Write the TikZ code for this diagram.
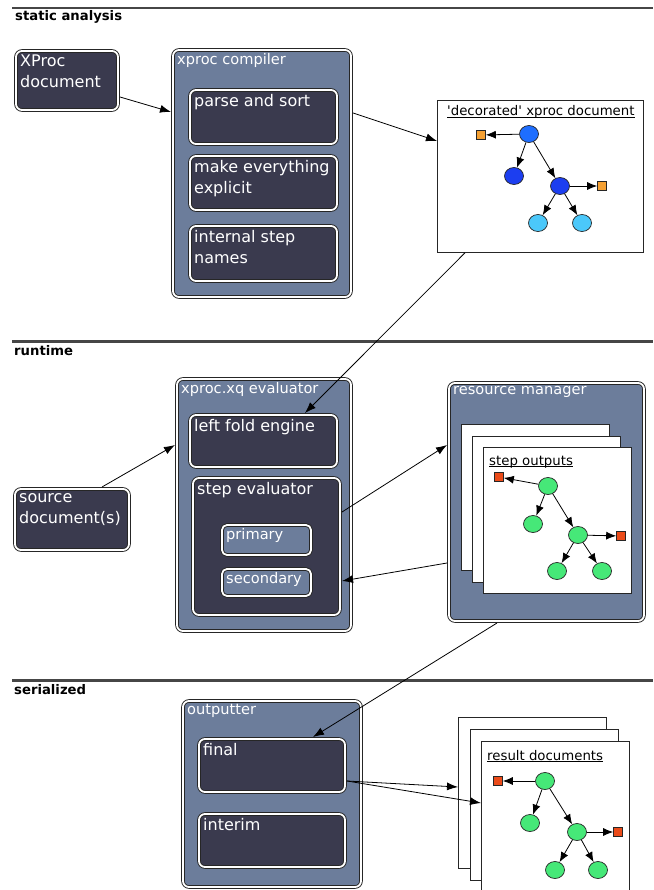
\documentclass[tikz,border=0pt]{standalone}
\usepackage{fontspec}
\setmainfont{DejaVu Sans}
\usetikzlibrary{arrows.meta, positioning, shapes.geometric, calc}

\definecolor{slate}{RGB}{108,125,155}
\definecolor{ink}{RGB}{58,58,78}
\definecolor{sectgray}{RGB}{70,70,70}
\definecolor{rootblue}{RGB}{30,110,255}
\definecolor{midblue}{RGB}{28,62,240}
\definecolor{leafblue}{RGB}{75,200,250}
\definecolor{attrorange}{RGB}{245,160,50}
\definecolor{stepgreen}{RGB}{70,232,120}
\definecolor{attrred}{RGB}{235,75,25}

\begin{document}
\begin{tikzpicture}[
    x=1pt, y=-1pt,
    %% box styles
    group/.style={
        draw=black!85, line width=0.9pt, double=white, double distance=1.8pt,
        rounded corners=6pt, fill=slate,
        inner sep=0pt, outer sep=2pt, anchor=north west
    },
    stage/.style={group, fill=ink},
    page/.style={
        draw=black!85, line width=0.8pt, fill=white,
        inner sep=0pt, anchor=north west,
        minimum width=148, minimum height=146
    },
    %% text styles
    grouptxt/.style={anchor=north west, text=white, inner xsep=6pt, inner ysep=5pt,
        font=\fontsize{14.6}{19}\selectfont},
    stagetxt/.style={anchor=north west, text=white, align=left, inner xsep=6pt, inner ysep=6pt,
        font=\fontsize{16}{21}\selectfont},
    sectiontxt/.style={anchor=base west, inner sep=0pt, font=\fontsize{13.2}{16}\selectfont\bfseries},
    pagetxt/.style={anchor=base west, inner sep=0pt, font=\fontsize{13.3}{16}\selectfont},
    underline/.style={line width=0.8pt},
    %% tree styles
    docnode/.style={ellipse, draw=black!85, line width=0.7pt,
        minimum width=19pt, minimum height=17pt, inner sep=0pt},
    attr/.style={draw=black!85, line width=0.6pt, minimum size=9pt, inner sep=0pt},
    %% arrow styles
    flow/.style={-{Latex[length=11pt, width=8pt]}, line width=0.8pt},
    edge/.style={-{Latex[length=10pt, width=8pt]}, line width=0.8pt},
    sectline/.style={line width=2.5pt, draw=sectgray}
]

    \useasboundingbox (0,0) rectangle (653,890);
    \fill[white] (0,0) rectangle (653,890);

    %% --- static analysis --------------------------------------
    \draw[sectline] (12,8) -- (653,8);
    \node[sectiontxt] (statlbl) at (15,20.7) {static analysis};

    \node[stage, minimum width=102, minimum height=59,
          label={[stagetxt]north west:{XProc\\document}}] (xproc) at (14,49) {};

    \node[group, minimum width=178, minimum height=247,
          label={[grouptxt]north west:xproc compiler}] (compiler) at (171,48) {};
    \node[stage, minimum width=147, minimum height=54,
          label={[stagetxt]north west:parse and sort}] (parse) at (188,88) {};
    \node[stage, minimum width=147, minimum height=54, below=8pt of parse,
          label={[stagetxt]north west:{make everything\\explicit}}] (explicit) {};
    \node[stage, minimum width=147, minimum height=55, below=12pt of explicit,
          label={[stagetxt]north west:{internal step\\names}}] (names) {};

    \node[page, minimum width=206, minimum height=152] (decorated) at (437,100) {};
    \node[pagetxt] (dectitle) at ($(decorated.north west)+(10,16)$)
        {\textquotesingle decorated\textquotesingle\ xproc document};
    \draw[underline] ($(dectitle.base west)+(0,1.8)$) -- ($(dectitle.base east)+(0,1.8)$);

    \begin{scope}[shift={(529,134)}]
        \node[docnode, fill=rootblue] (droot) at (0,0) {};
        \node[attr, fill=attrorange] (dattr1) at (-48,1) {};
        \node[docnode, fill=midblue] (dleft) at (-15,42) {};
        \node[docnode, fill=midblue] (dright) at (31,52) {};
        \node[attr, fill=attrorange] (dattr2) at (73,52) {};
        \node[docnode, fill=leafblue] (dleaf1) at (9,89) {};
        \node[docnode, fill=leafblue] (dleaf2) at (53,89) {};
        \draw[edge] (droot) -- (dattr1);
        \draw[edge] (droot) -- (dleft);
        \draw[edge] (droot) -- (dright);
        \draw[edge] (dright) -- (dattr2);
        \draw[edge] (dright) -- (dleaf1);
        \draw[edge] (dright) -- (dleaf2);
    \end{scope}

    %% --- runtime ----------------------------------------------
    \draw[sectline] (12,341.5) -- (653,341.5);
    \node[sectiontxt] (runlbl) at (14,355) {runtime};

    \node[stage, minimum width=114, minimum height=61,
          label={[stagetxt]north west:{source\\document(s)}}] (source) at (13,487) {};

    \node[group, minimum width=174, minimum height=252,
          label={[grouptxt]north west:xproc.xq evaluator}] (evaluator) at (175,377) {};
    \node[stage, minimum width=147, minimum height=52,
          label={[stagetxt]north west:left fold engine}] (leftfold) at (188,413) {};
    \node[stage, minimum width=147, minimum height=137,
          label={[stagetxt]north west:step evaluator}] (stepeval) at (191,476) {};
    \node[group, rounded corners=5pt, minimum width=89, minimum height=30,
          label={[grouptxt]north west:primary}] (primary) at (220,523) {};
    \node[group, rounded corners=5pt, minimum width=89, minimum height=27, below=10pt of primary,
          label={[grouptxt]north west:secondary}] (secondary) {};

    \node[group, minimum width=195, minimum height=238,
          label={[grouptxt]north west:resource manager}] (resmgr) at (447,381) {};
    \node[page] (store1) at (461,424) {};
    \node[page] (store2) at (472,436) {};
    \node[page] (store3) at (483,447) {};
    \node[pagetxt] (storetitle) at ($(store3.north west)+(6,18)$) {step outputs};
    \draw[underline] ($(storetitle.base west)+(0,1.8)$) -- ($(storetitle.base east)+(0,1.8)$);

    \begin{scope}[shift={(548,486)}]
        \node[docnode, fill=stepgreen] (sroot) at (0,0) {};
        \node[attr, fill=attrred] (sattr1) at (-49,-9) {};
        \node[docnode, fill=stepgreen] (sleft) at (-15,38) {};
        \node[docnode, fill=stepgreen] (sright) at (30,49) {};
        \node[attr, fill=attrred] (sattr2) at (73,50) {};
        \node[docnode, fill=stepgreen] (sleaf1) at (9,85) {};
        \node[docnode, fill=stepgreen] (sleaf2) at (54,85) {};
        \draw[edge] (sroot) -- (sattr1);
        \draw[edge] (sroot) -- (sleft);
        \draw[edge] (sroot) -- (sright);
        \draw[edge] (sright) -- (sattr2);
        \draw[edge] (sright) -- (sleaf1);
        \draw[edge] (sright) -- (sleaf2);
    \end{scope}

    %% --- serialized -------------------------------------------
    \draw[sectline] (12,680.5) -- (653,680.5);
    \node[sectiontxt] (serlbl) at (14,694) {serialized};

    \node[group, minimum width=178, minimum height=186,
          label={[grouptxt]north west:outputter}] (outputter) at (181,699) {};
    \node[stage, minimum width=146, minimum height=53,
          label={[stagetxt]north west:final}] (final) at (197,737) {};
    \node[stage, minimum width=146, minimum height=53, below=18pt of final,
          label={[stagetxt]north west:interim}] (interim) {};

    \node[page, minimum height=151] (result1) at (458,717) {};
    \node[page, minimum height=151] (result2) at (470,729) {};
    \node[page, minimum height=151] (result3) at (481,741) {};
    \node[pagetxt] (resulttitle) at ($(result3.north west)+(6,19)$) {result documents};
    \draw[underline] ($(resulttitle.base west)+(0,1.8)$) -- ($(resulttitle.base east)+(0,1.8)$);

    \begin{scope}[shift={(545,781)}]
        \node[docnode, fill=stepgreen] (rroot) at (0,0) {};
        \node[attr, fill=attrred] (rattr1) at (-47,0) {};
        \node[docnode, fill=stepgreen] (rleft) at (-15,42) {};
        \node[docnode, fill=stepgreen] (rright) at (32,51) {};
        \node[attr, fill=attrred] (rattr2) at (73,51) {};
        \node[docnode, fill=stepgreen] (rleaf1) at (10,89) {};
        \node[docnode, fill=stepgreen] (rleaf2) at (53,89) {};
        \draw[edge] (rroot) -- (rattr1);
        \draw[edge] (rroot) -- (rleft);
        \draw[edge] (rroot) -- (rright);
        \draw[edge] (rright) -- (rattr2);
        \draw[edge] (rright) -- (rleaf1);
        \draw[edge] (rright) -- (rleaf2);
    \end{scope}

    %% --- arrows -----------------------------------------------
    \draw[flow] ($(xproc.north east)+(0,48)$) -- ($(compiler.north west)+(0,64)$);
    \draw[flow] ($(compiler.north east)+(0,65)$) -- ($(decorated.north west)+(0,41)$);
    \draw[flow] ($(decorated.south west)+(28,0)$) -- ($(leftfold.north west)+(117,0)$);
    \draw[flow] ($(source.north west)+(89,0)$) -- ($(evaluator.north west)+(0,68)$);
    \draw[flow] ($(stepeval.north east)+(0,36)$) -- ($(resmgr.north west)+(0,64)$);
    \draw[flow] ($(resmgr.north west)+(0,182)$) -- ($(stepeval.north east)+(0,105)$);
    \draw[flow] ($(resmgr.south west)+(50,0)$) -- ($(final.north west)+(116,0)$);
    \draw[flow] ($(final.north east)+(0,44)$) -- ($(result1.north west)+(0,70)$);
    \draw[flow] ($(final.north east)+(0,44)$) -- ($(result3.north west)+(0,62)$);

\end{tikzpicture}
\end{document}
